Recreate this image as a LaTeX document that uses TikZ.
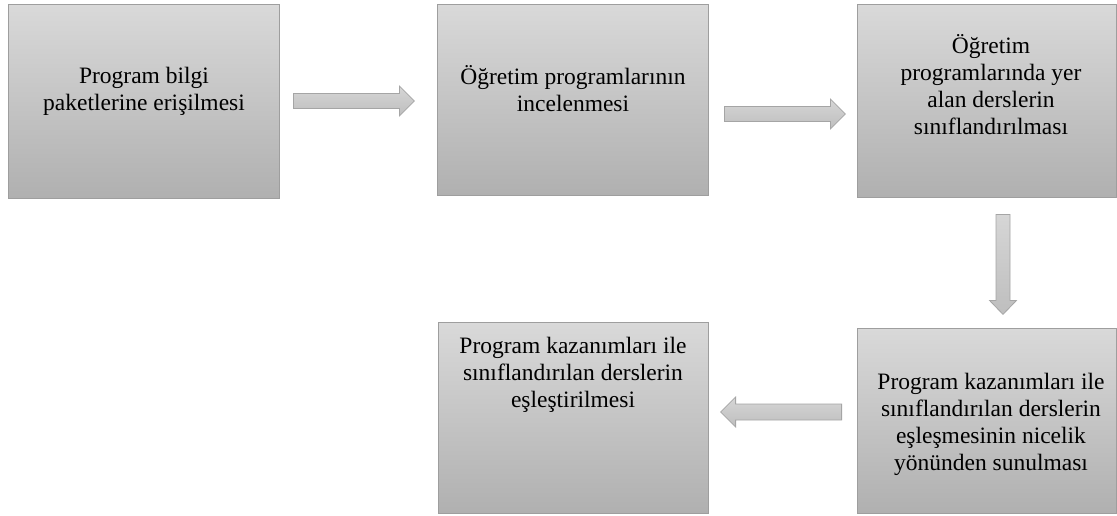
\documentclass[tikz,border=0pt]{standalone}
\usepackage{fontspec}
\setmainfont{Liberation Serif}
\usetikzlibrary{calc}
\definecolor{boxtop}{RGB}{217,217,217}
\definecolor{boxbot}{RGB}{176,176,176}
\definecolor{boxedge}{RGB}{158,158,158}
\definecolor{arrtop}{RGB}{214,214,214}
\definecolor{arrbot}{RGB}{190,190,190}
\definecolor{arredge}{RGB}{165,165,165}
\tikzset{
  procbox/.style={draw=boxedge, line width=0.8pt, top color=boxtop, bottom color=boxbot,
    inner sep=0pt, rectangle},
  boxtext/.style={align=center, inner sep=0pt, anchor=base, text=black,
    font=\fontsize{23.5}{27}\selectfont},
  blockarrow/.style={draw=arredge, line width=0.8pt, top color=arrtop, bottom color=arrbot,
    line join=miter}
}
\begin{document}
\begin{tikzpicture}[x=1pt,y=-1pt]
\useasboundingbox (0,0) rectangle (1117,515);
\fill[white] (0,0) rectangle (1117,515);

% boxes
\node[procbox, minimum width=271, minimum height=194] (b1) at (143.5,101) {};
\node[procbox, minimum width=271, minimum height=191] (b2) at (572.5,99.5) {};
\node[procbox, minimum width=259, minimum height=193] (b3) at (986.5,100.5) {};
\node[procbox, minimum width=259, minimum height=185] (b4) at (986.5,420.5) {};
\node[procbox, minimum width=270, minimum height=191] (b5) at (573,417.5) {};

% texts (base anchor = baseline of the last line)
\node[boxtext] (t1) at (144,110) {Program bilgi\\paketlerine erişilmesi};
\node[boxtext] (t2) at (573,111) {Öğretim programlarının\\incelenmesi};
\node[boxtext] (t3) at (991,134) {Öğretim\\programlarında yer\\alan derslerin\\sınıflandırılması};
\node[boxtext] (t4) at (991,470) {Program kazanımları ile\\sınıflandırılan derslerin\\eşleşmesinin nicelik\\yönünden sunulması};
\node[boxtext] (t5) at (573,407) {Program kazanımları ile\\sınıflandırılan derslerin\\eşleştirilmesi};

% arrow start points
\coordinate (a1) at ($(b1.east)+(14,0)$);
\coordinate (a2) at ($(b2.east)+(16,14.5)$);
\coordinate (a3) at ($(b3.south)+(16.5,17)$);
\coordinate (a4) at ($(b4.west)+(-15,-8.5)$);

% right arrows (length 121)
\draw[blockarrow] (a1) ++(0,-7.5) -- ++(106,0) -- ++(0,-7.5) -- ++(15,15)
  -- ++(-15,15) -- ++(0,-7.5) -- ++(-106,0) -- cycle;
\draw[blockarrow] (a2) ++(0,-7.5) -- ++(106,0) -- ++(0,-7.5) -- ++(15,15)
  -- ++(-15,15) -- ++(0,-7.5) -- ++(-106,0) -- cycle;
% down arrow (length 100)
\draw[blockarrow] (a3) ++(-7,0) -- ++(0,86) -- ++(-6.5,0) -- ++(13.5,14)
  -- ++(13.5,-14) -- ++(-6.5,0) -- ++(0,-86) -- cycle;
% left arrow (length 121)
\draw[blockarrow] (a4) ++(0,-8) -- ++(-106,0) -- ++(0,-7) -- ++(-15,15)
  -- ++(15,15) -- ++(0,-7) -- ++(106,0) -- cycle;
\end{tikzpicture}
\end{document}
